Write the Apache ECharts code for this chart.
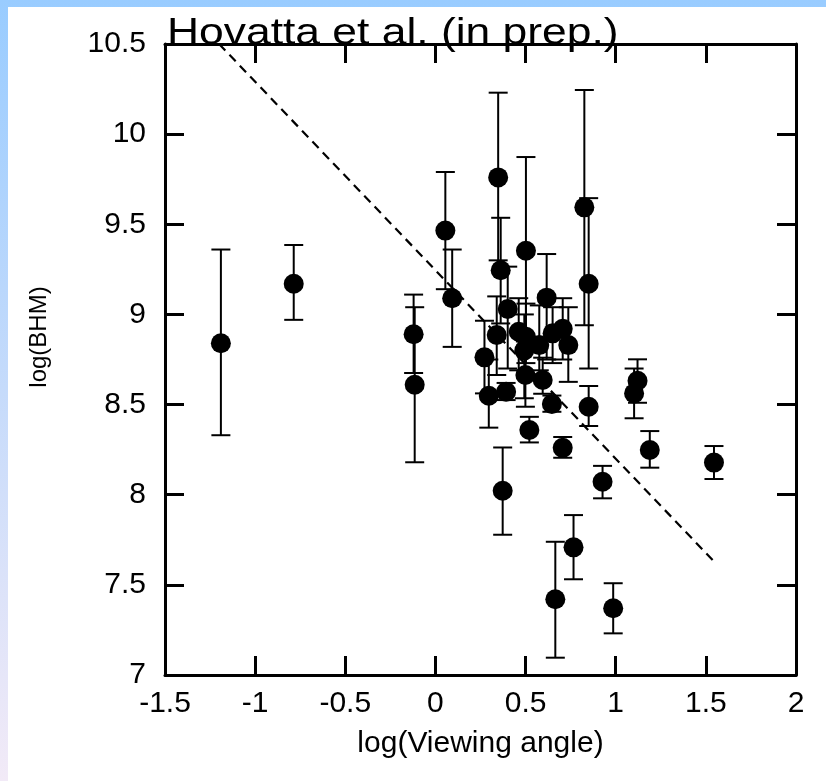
<!DOCTYPE html>
<html>
<head>
<meta charset="utf-8">
<script src="https://cdn.jsdelivr.net/npm/echarts@6/dist/echarts.min.js"></script>
<style>
  html, body { margin: 0; padding: 0; background: #fff; }
  #chart { width: 826px; height: 781px; }
</style>
</head>
<body>
<div id="chart"></div>
<script>
// log of the viewing angle for each source
const viewingAngle = [
  -1.19, -0.786, -0.121, -0.115, 0.055, 0.093, 0.348, 0.362, 0.502, 0.826,
  0.85, 0.617, 0.401, 0.34, 0.272, 0.296, 0.392, 0.462, 0.502, 0.576,
  0.493, 0.706, 0.65, 0.737, 0.499, 0.595, 0.646, 0.85, 0.521, 0.706,
  0.927, 0.373, 1.121, 1.102, 1.189, 1.545, 0.766, 0.665, 0.986
];
// log of the black hole mass
const bhm = [
  8.84, 9.17, 8.89, 8.61, 9.465, 9.09, 9.76, 9.245, 9.353, 9.594,
  9.17, 9.093, 9.03, 8.886, 8.762, 8.549, 8.571, 8.904, 8.876, 8.83,
  8.80, 8.92, 8.895, 8.83, 8.664, 8.636, 8.503, 8.488, 8.359, 8.26,
  8.072, 8.022, 8.632, 8.562, 8.248, 8.178, 7.708, 7.42, 7.37
];
// lower end of each error bar
const bhmLow = [
  8.33, 8.97, 8.675, 8.18, 9.14, 8.82, 9.30, 8.95, 8.83, 8.94,
  8.70, 8.75, 8.70, 8.664, 8.562, 8.372, 8.525, 8.69, 8.73, 8.69,
  8.535, 8.75, 8.73, 8.626, 8.488, 8.56, 8.46, 8.381, 8.29, 8.205,
  7.98, 7.778, 8.51, 8.424, 8.15, 8.087, 7.531, 7.096, 7.231
];
// upper end of each error bar
const bhmHigh = [
  9.36, 9.385, 9.11, 9.04, 9.79, 9.36, 10.23, 9.536, 9.873, 10.245,
  9.645, 9.335, 9.265, 9.10, 8.965, 8.75, 8.62, 9.09, 9.06, 9.05,
  9.0, 9.09, 9.04, 9.04, 8.85, 8.76, 8.55, 8.603, 8.432, 8.32,
  8.16, 8.262, 8.751, 8.70, 8.353, 8.27, 7.887, 7.739, 7.509
];
// end points of the dashed trend line
const trendX = [-1.2, 1.545];
const trendY = [10.5, 7.63];

const xRange = { min: -1.5, max: 2, step: 0.5 };
const yRange = { min: 7, max: 10.5, step: 0.5 };

const FONT = '"Liberation Sans", Arial, Helvetica, sans-serif';
const INK = '#000';

const chart = echarts.init(document.getElementById('chart'), null, { renderer: 'canvas' });

// box frame: every side carries inward ticks, only bottom/left get labels
function frameAxis(extra) {
  return Object.assign({
    type: 'value',
    splitLine: { show: false },
    axisLine: { show: true, onZero: false, lineStyle: { color: INK, width: 3 } },
    axisTick: { show: true, inside: true, length: 19, lineStyle: { color: INK, width: 3 } },
    axisLabel: { show: false }
  }, extra);
}

const option = {
  animation: false,
  backgroundColor: 'transparent',
  graphic: [
    {
      type: 'rect', z: -20, silent: true,
      shape: { x: 0, y: 0, width: 826, height: 781 },
      style: {
        fill: new echarts.graphic.LinearGradient(0, 0, 0, 1, [
          { offset: 0, color: '#99ccff' },
          { offset: 1, color: '#f2eaf7' }
        ])
      }
    },
    {
      type: 'rect', z: -19, silent: true,
      shape: { x: 8, y: 7, width: 818, height: 774 },
      style: { fill: '#ffffff' }
    },
    {
      type: 'text', z: 50, silent: true,
      x: 167, y: 15, scaleX: 1.2, scaleY: 1,
      style: { text: 'Hovatta et al. (in prep.)', fill: INK, font: '37px ' + FONT }
    },
    {
      type: 'text', z: 50, silent: true,
      x: 39, y: 337, rotation: Math.PI / 2,
      style: {
        text: 'log(BHM)', fill: INK, font: '24px ' + FONT,
        align: 'center', verticalAlign: 'middle'
      }
    }
  ],
  grid: { left: 165, top: 44, width: 631, height: 631 },
  xAxis: [
    frameAxis({
      min: xRange.min, max: xRange.max, interval: xRange.step, position: 'bottom',
      axisLabel: { show: true, color: INK, fontSize: 30, fontFamily: FONT, margin: 14 },
      name: 'log(Viewing angle)', nameLocation: 'middle', nameGap: 54,
      nameTextStyle: { color: INK, fontSize: 30, fontFamily: FONT }
    }),
    frameAxis({ min: xRange.min, max: xRange.max, interval: xRange.step, position: 'top' })
  ],
  yAxis: [
    frameAxis({
      min: yRange.min, max: yRange.max, interval: yRange.step, position: 'left',
      axisLabel: { show: true, color: INK, fontSize: 30, fontFamily: FONT, margin: 19 }
    }),
    frameAxis({ min: yRange.min, max: yRange.max, interval: yRange.step, position: 'right' })
  ],
  series: [
    {
      name: 'trend',
      type: 'line',
      data: trendX.map((x, i) => [x, trendY[i]]),
      symbol: 'none',
      lineStyle: { color: INK, width: 2.2, type: [9, 6] },
      silent: true,
      z: 2
    },
    {
      name: 'error',
      type: 'custom',
      data: viewingAngle.map((x, i) => [x, bhmLow[i], bhmHigh[i]]),
      encode: { x: 0, y: [1, 2] },
      renderItem: function (params, api) {
        const x = api.value(0);
        const lo = api.coord([x, api.value(1)]);
        const hi = api.coord([x, api.value(2)]);
        const hw = 9.5;
        const st = { stroke: INK, lineWidth: 2 };
        return {
          type: 'group',
          children: [
            { type: 'line', shape: { x1: lo[0], y1: lo[1], x2: hi[0], y2: hi[1] }, style: st },
            { type: 'line', shape: { x1: lo[0] - hw, y1: lo[1], x2: lo[0] + hw, y2: lo[1] }, style: st },
            { type: 'line', shape: { x1: hi[0] - hw, y1: hi[1], x2: hi[0] + hw, y2: hi[1] }, style: st }
          ]
        };
      },
      silent: true,
      z: 3
    },
    {
      name: 'BHM',
      type: 'scatter',
      data: viewingAngle.map((x, i) => [x, bhm[i]]),
      symbol: 'circle',
      symbolSize: 20,
      itemStyle: { color: INK, opacity: 1 },
      silent: true,
      z: 4
    }
  ]
};

chart.setOption(option);
</script>
</body>
</html>
